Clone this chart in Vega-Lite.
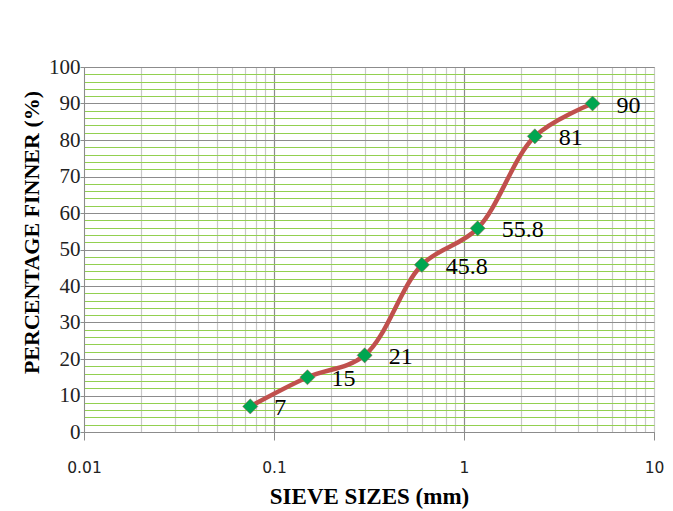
{
  "$schema": "https://vega.github.io/schema/vega-lite/v6.json",
  "autosize": "none",
  "width": 570,
  "height": 365,
  "padding": {"left": 84, "top": 67, "right": 19, "bottom": 79},
  "background": "white",
  "config": {"view": {"stroke": "#8c8c8c", "strokeWidth": 1}},
  "data": {"values": [
    {"size": 0.075, "finer": 7, "label": "7"},
    {"size": 0.15, "finer": 15, "label": "15"},
    {"size": 0.3, "finer": 21, "label": "21"},
    {"size": 0.6, "finer": 45.8, "label": "45.8"},
    {"size": 1.18, "finer": 55.8, "label": "55.8"},
    {"size": 2.36, "finer": 81, "label": "81"},
    {"size": 4.75, "finer": 90, "label": "90"}
  ]},
  "encoding": {
    "x": {
      "field": "size", "type": "quantitative",
      "scale": {"type": "log", "domain": [0.01, 10], "nice": false},
      "axis": {
        "title": "SIEVE SIZES (mm)",
        "titleFont": "Liberation Serif", "titleFontSize": 23, "titleFontWeight": "bold", "titleColor": "black",
        "titlePadding": 10,
        "values": [0.01,0.02,0.03,0.04,0.05,0.06,0.07,0.08,0.09,0.1,0.2,0.3,0.4,0.5,0.6,0.7,0.8,0.9,1,2,3,4,5,6,7,8,9,10],
        "labelExpr": "(datum.value == 0.01 || datum.value == 0.1 || datum.value == 1 || datum.value == 10) ? datum.label : ''",
        "labelFont": "DejaVu Sans", "labelFontSize": 15.5, "labelColor": "#222", "labelPadding": 20,
        "labelFlush": false,
        "grid": true,
        "gridColor": {"condition": {"test": "datum.value == 0.1 || datum.value == 1", "value": "#8c8c8c"}, "value": "#c8c8c8"},
        "gridWidth": 1.2,
        "domainColor": "#8c8c8c",
        "tickColor": "#8c8c8c",
        "tickSize": 8,
        "tickOpacity": {"condition": {"test": "datum.value == 0.01 || datum.value == 0.1 || datum.value == 1 || datum.value == 10", "value": 1}, "value": 0}
      }
    },
    "y": {
      "field": "finer", "type": "quantitative",
      "scale": {"domain": [0, 100], "nice": false},
      "axis": {
        "title": "PERCENTAGE FINNER (%)",
        "titleFont": "Liberation Serif", "titleFontSize": 22, "titleFontWeight": "bold", "titleColor": "black",
        "titleX": -41, "titleY": 165,
        "values": [0,2,4,6,8,10,12,14,16,18,20,22,24,26,28,30,32,34,36,38,40,42,44,46,48,50,52,54,56,58,60,62,64,66,68,70,72,74,76,78,80,82,84,86,88,90,92,94,96,98,100],
        "labelExpr": "datum.value % 10 == 0 ? datum.label : ''",
        "labelFont": "Times New Roman, Liberation Serif, serif", "labelFontSize": 21, "labelColor": "#222", "labelPadding": 0,
        "labelFlush": false,
        "grid": true,
        "gridColor": {"condition": {"test": "datum.value % 10 == 0", "value": "#8c8c8c"}, "value": "#92d050"},
        "gridWidth": 1.2,
        "domainColor": "#8c8c8c",
        "tickColor": "#8c8c8c",
        "tickSize": 4,
        "tickOpacity": {"condition": {"test": "datum.value % 10 == 0", "value": 1}, "value": 0}
      }
    }
  },
  "layer": [
    {"mark": {"type": "line", "interpolate": "catmull-rom", "color": "#c0504d", "strokeWidth": 4.5}},
    {"mark": {"type": "point", "shape": "diamond", "filled": true, "size": 230, "fill": "#00a651", "stroke": "#b06050", "strokeWidth": 0.5, "opacity": 1}},
    {"mark": {"type": "text", "align": "left", "baseline": "middle", "dx": 24, "dy": 2, "font": "Times New Roman, Liberation Serif, serif", "fontSize": 24, "color": "black"},
     "encoding": {"text": {"field": "label"}}}
  ]
}
